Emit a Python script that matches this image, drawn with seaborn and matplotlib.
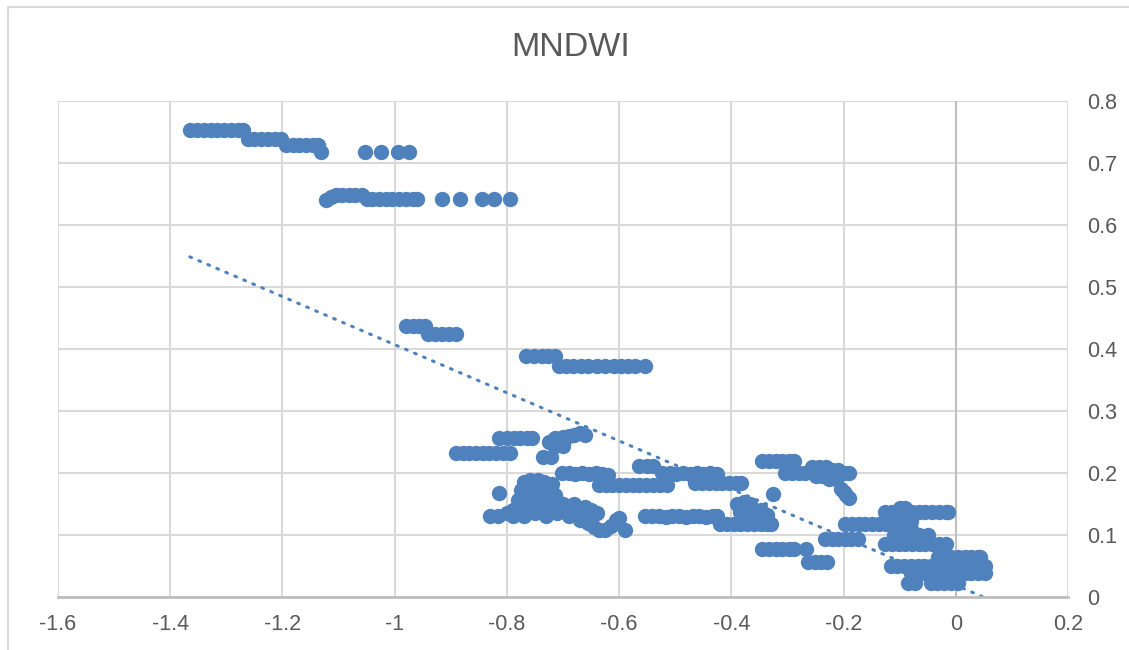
import numpy as np
import pandas as pd
import matplotlib.pyplot as plt
import seaborn as sns
from matplotlib.patches import Rectangle

# MNDWI scatter
# upper bands
top_x = [-1.365, -1.352, -1.34, -1.328, -1.316, -1.304, -1.292, -1.28, -1.27,
         -1.262, -1.25, -1.238, -1.226, -1.214, -1.202,
         -1.194, -1.182, -1.17, -1.158, -1.146, -1.136,
         -1.131, -1.052, -1.024, -0.994, -0.974]
top_y = [0.753, 0.753, 0.753, 0.753, 0.753, 0.753, 0.753, 0.753, 0.753,
         0.738, 0.738, 0.738, 0.738, 0.738, 0.738,
         0.729, 0.729, 0.729, 0.729, 0.729, 0.729,
         0.718, 0.718, 0.718, 0.718, 0.718]

band64_x = [-1.122, -1.114, -1.104, -1.094, -1.082, -1.07, -1.058, -1.05, -1.04,
            -1.028, -1.016, -1.004, -0.992, -0.98, -0.968, -0.96,
            -0.916, -0.884, -0.844, -0.823, -0.795]
band64_y = [0.641, 0.645, 0.648, 0.648, 0.648, 0.648, 0.648, 0.642, 0.642,
            0.642, 0.642, 0.642, 0.642, 0.642, 0.642, 0.642,
            0.642, 0.642, 0.642, 0.642, 0.642]

mid_x = [-0.98, -0.968, -0.956, -0.946, -0.94, -0.928, -0.916, -0.904, -0.891,
         -0.766, -0.752, -0.738, -0.726, -0.714,
         -0.708, -0.695, -0.682, -0.668, -0.655, -0.64, -0.625, -0.61, -0.597,
         -0.585, -0.572, -0.553]
mid_y = [0.437, 0.437, 0.437, 0.437, 0.425, 0.425, 0.425, 0.425, 0.425,
         0.389, 0.389, 0.389, 0.389, 0.389,
         0.372, 0.372, 0.372, 0.372, 0.372, 0.372, 0.372, 0.372, 0.372,
         0.372, 0.372, 0.372]

# 0.18 - 0.26 band
b20_x = [-0.814, -0.8, -0.788, -0.776, -0.764, -0.756,
         -0.891, -0.879, -0.867, -0.855, -0.843, -0.831, -0.819, -0.807, -0.795,
         -0.735, -0.722,
         -0.725, -0.715, -0.705, -0.7, -0.69, -0.68, -0.67, -0.66, -0.715, -0.7,
         -0.702, -0.69, -0.678, -0.666, -0.654, -0.642, -0.63, -0.62,
         -0.636, -0.624, -0.612, -0.6, -0.588, -0.576, -0.564, -0.552, -0.54, -0.528, -0.515,
         -0.565, -0.55, -0.54,
         -0.524, -0.51, -0.498, -0.486, -0.474, -0.462, -0.45, -0.438, -0.426,
         -0.464, -0.452, -0.44, -0.428, -0.416, -0.404, -0.392, -0.382]
b20_y = [0.257, 0.257, 0.257, 0.257, 0.257, 0.257,
         0.232, 0.232, 0.232, 0.232, 0.232, 0.232, 0.232, 0.232, 0.232,
         0.226, 0.226,
         0.25, 0.256, 0.25, 0.258, 0.26, 0.262, 0.265, 0.262, 0.243, 0.243,
         0.2, 0.2, 0.198, 0.2, 0.198, 0.2, 0.198, 0.196,
         0.18, 0.18, 0.18, 0.18, 0.18, 0.18, 0.18, 0.18, 0.18, 0.18, 0.18,
         0.212, 0.212, 0.212,
         0.2, 0.2, 0.198, 0.2, 0.198, 0.2, 0.198, 0.2, 0.198,
         0.184, 0.184, 0.184, 0.184, 0.184, 0.184, 0.184, 0.184]

# lower left cluster, 0.1 - 0.19
low_x = [-0.814, -0.77, -0.758, -0.745, -0.733, -0.72, -0.775, -0.76, -0.745, -0.73,
         -0.715, -0.78, -0.765, -0.75, -0.735,
         -0.83, -0.815, -0.8, -0.79, -0.78, -0.77, -0.76, -0.75, -0.74, -0.73, -0.72,
         -0.71, -0.7, -0.69, -0.68, -0.67, -0.66, -0.65, -0.64,
         -0.79, -0.77, -0.75, -0.73, -0.71, -0.69, -0.67, -0.655, -0.645, -0.635,
         -0.625, -0.615, -0.605, -0.6, -0.59,
         -0.553, -0.541, -0.529, -0.517, -0.505, -0.493, -0.481, -0.469, -0.457,
         -0.445, -0.433, -0.425,
         -0.42, -0.408, -0.396, -0.384, -0.372, -0.36, -0.348, -0.336, -0.329,
         -0.39, -0.378, -0.366, -0.385, -0.372, -0.36, -0.348, -0.336, -0.345, -0.335,
         -0.325]
low_y = [0.168, 0.185, 0.188, 0.188, 0.185, 0.183, 0.172, 0.17, 0.168, 0.17,
         0.165, 0.157, 0.155, 0.155, 0.155,
         0.131, 0.131, 0.135, 0.14, 0.145, 0.15, 0.14, 0.145, 0.15, 0.145, 0.15,
         0.155, 0.15, 0.145, 0.15, 0.14, 0.145, 0.14, 0.135,
         0.13, 0.13, 0.135, 0.13, 0.135, 0.13, 0.125, 0.12, 0.113, 0.108,
         0.108, 0.115, 0.125, 0.127, 0.108,
         0.131, 0.131, 0.131, 0.129, 0.131, 0.131, 0.129, 0.131, 0.131,
         0.129, 0.131, 0.131,
         0.117, 0.117, 0.117, 0.117, 0.117, 0.117, 0.117, 0.117, 0.117,
         0.15, 0.153, 0.15, 0.137, 0.135, 0.138, 0.14, 0.133, 0.125, 0.12,
         0.166]

# right cluster, -0.35 to 0.05
right_x = [-0.345, -0.333, -0.321, -0.309, -0.297, -0.288,
           -0.345, -0.333, -0.321, -0.309, -0.297, -0.288, -0.267,
           -0.263, -0.251, -0.24, -0.23,
           -0.304, -0.292, -0.28, -0.268, -0.256, -0.244, -0.232, -0.22, -0.21,
           -0.25, -0.238, -0.226, -0.214, -0.2, -0.19,
           -0.205, -0.2, -0.195, -0.19,
           -0.233, -0.221, -0.21, -0.198, -0.186, -0.174,
           -0.197, -0.185, -0.173, -0.161, -0.149, -0.137, -0.125, -0.113, -0.1,
           -0.09, -0.08,
           -0.126, -0.114, -0.102, -0.09, -0.078, -0.066, -0.054, -0.042, -0.03,
           -0.018, -0.014, -0.1, -0.09,
           -0.126, -0.114, -0.102, -0.09, -0.078, -0.066, -0.054, -0.042, -0.03,
           -0.018,
           -0.11, -0.095, -0.08, -0.065, -0.05, -0.12, -0.1, -0.08,
           -0.032, -0.02, -0.008, 0.004, 0.016, 0.028, 0.04, 0.044,
           -0.116, -0.104, -0.092, -0.08, -0.068, -0.056, -0.044, -0.032, -0.02,
           -0.008, 0.004, 0.016, 0.028, 0.04, 0.052,
           -0.08, -0.068, -0.056, -0.044, -0.032, -0.02, -0.008, 0.004, 0.016,
           0.028, 0.04, 0.052,
           -0.085, -0.073, -0.045, -0.033, -0.021, -0.009, 0.004]
right_y = [0.22, 0.22, 0.22, 0.22, 0.22, 0.22,
           0.077, 0.077, 0.077, 0.077, 0.077, 0.077, 0.077,
           0.057, 0.057, 0.057, 0.057,
           0.2, 0.2, 0.2, 0.2, 0.21, 0.21, 0.21, 0.205, 0.205,
           0.195, 0.195, 0.19, 0.19, 0.2, 0.2,
           0.175, 0.17, 0.165, 0.16,
           0.093, 0.093, 0.093, 0.093, 0.093, 0.093,
           0.117, 0.117, 0.117, 0.117, 0.117, 0.117, 0.117, 0.117, 0.117,
           0.11, 0.11,
           0.137, 0.137, 0.137, 0.137, 0.137, 0.137, 0.137, 0.137, 0.137,
           0.137, 0.137, 0.143, 0.143,
           0.085, 0.085, 0.085, 0.085, 0.085, 0.085, 0.085, 0.085, 0.085,
           0.085,
           0.1, 0.1, 0.105, 0.1, 0.1, 0.125, 0.125, 0.122,
           0.065, 0.065, 0.065, 0.065, 0.065, 0.065, 0.065, 0.065,
           0.05, 0.05, 0.05, 0.05, 0.05, 0.05, 0.05, 0.05, 0.05,
           0.05, 0.05, 0.05, 0.05, 0.05, 0.05,
           0.039, 0.039, 0.039, 0.039, 0.039, 0.039, 0.039, 0.039, 0.039,
           0.039, 0.039, 0.039,
           0.023, 0.023, 0.023, 0.023, 0.023, 0.023, 0.023]

# linear trendline (as shown by the chart)
trend_slope = -0.388
trend_intercept = 0.019

x_ticks = [-1.6, -1.4, -1.2, -1, -0.8, -0.6, -0.4, -0.2, 0, 0.2]
x_labels = ['-1.6', '-1.4', '-1.2', '-1', '-0.8', '-0.6', '-0.4', '-0.2', '0', '0.2']
y_ticks = [0, 0.1, 0.2, 0.3, 0.4, 0.5, 0.6, 0.7, 0.8]
y_labels = ['0', '0.1', '0.2', '0.3', '0.4', '0.5', '0.6', '0.7', '0.8']

df = pd.DataFrame({
    'x': top_x + band64_x + mid_x + b20_x + low_x + right_x,
    'y': top_y + band64_y + mid_y + b20_y + low_y + right_y,
})

sns.set_theme(style='white')
plt.rcParams['font.family'] = ['Liberation Sans', 'DejaVu Sans']

blue = '#4F81BD'
grey_txt = '#595959'
grid_c = '#D9D9D9'

fig = plt.figure(figsize=(11.29, 6.5), dpi=100)
ax = fig.add_axes([58 / 1129, 53 / 650, 1010 / 1129, 496 / 650])

# gridlines
for xv in x_ticks:
    ax.axvline(xv, color=grid_c, lw=1.5, zorder=0)
for yv in y_ticks:
    ax.axhline(yv, color=grid_c, lw=1.5, zorder=0)
ax.axvline(0, color='#BFBFBF', lw=1.5, zorder=1)

sns.scatterplot(data=df, x='x', y='y', ax=ax, color=blue, s=122,
                linewidth=0, alpha=1, zorder=3)

xs = np.array([df['x'].min(), df['x'].max()])
ax.plot(xs, trend_slope * xs + trend_intercept, color=blue, lw=2.2,
        linestyle=(0, (0.6, 2.6)), dash_capstyle='round', zorder=4)

ax.set_xlim(-1.6, 0.2)
ax.set_ylim(0, 0.8)
ax.set_xticks(x_ticks)
ax.set_xticklabels(x_labels)
ax.set_yticks(y_ticks)
ax.set_yticklabels(y_labels)
ax.yaxis.tick_right()
ax.tick_params(axis='x', length=0, pad=12, labelsize=15.5, labelcolor=grey_txt)
ax.tick_params(axis='y', length=0, pad=14, labelsize=15.5, labelcolor=grey_txt)
for lab in ax.get_yticklabels():
    lab.set_horizontalalignment('left')
ax.set_xlabel('')
ax.set_ylabel('')

for side in ['top', 'left', 'right']:
    ax.spines[side].set_visible(False)
ax.spines['bottom'].set_color('#BFBFBF')
ax.spines['bottom'].set_linewidth(2)
ax.spines['bottom'].set_zorder(5)

fig.text(571 / 1129, 1 - 47 / 650, 'MNDWI', ha='center', va='center',
         fontsize=24.5, color=grey_txt)

# chart area border
fig.patches.append(Rectangle((8 / 1129, -0.1), 1.2, 1 - 7 / 650 + 0.1,
                             transform=fig.transFigure, fill=False,
                             edgecolor='#D9D9D9', lw=1.5))

fig.savefig('out.png', dpi=100)
